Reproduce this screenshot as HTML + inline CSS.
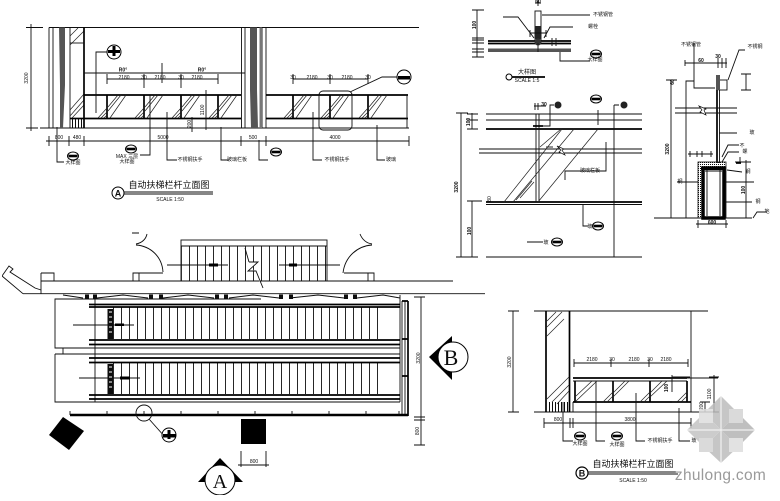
<!DOCTYPE html>
<html lang="zh">
<head>
<meta charset="utf-8">
<title>自动扶梯栏杆大样图</title>
<style>
html,body{margin:0;padding:0;background:#fff}
svg{display:block}
text{font-family:"Liberation Sans","Noto Sans CJK SC",sans-serif;fill:#111;font-size:5px;text-anchor:middle}
.s{fill:none;stroke:#111;stroke-width:.9}
.t{fill:none;stroke:#000;stroke-width:1.7}
.h{fill:none;stroke:#222;stroke-width:.7}
.m{fill:none;stroke:#000;stroke-width:2.6}
</style>
</head>
<body>
<svg xmlns="http://www.w3.org/2000/svg" width="780" height="501" viewBox="0 0 780 501">
<defs>
<filter id="b" x="0" y="0" width="100%" height="100%"><feGaussianBlur stdDeviation=".28"/></filter>
<pattern id="tr" patternUnits="userSpaceOnUse" width="8" height="10" x="1"><rect x="0" y="0" width=".9" height="10" fill="#111"/></pattern>
<pattern id="up" patternUnits="userSpaceOnUse" width="8" height="10" x="189"><rect x="0" y="0" width=".9" height="10" fill="#111"/></pattern>
<pattern id="vh" patternUnits="userSpaceOnUse" width="3" height="10"><rect x="0" y="0" width="1" height="10" fill="#111"/></pattern>
<pattern id="dt" patternUnits="userSpaceOnUse" width="2" height="2"><rect width="1" height="1" fill="#111"/></pattern>
<g id="post">
<path class="t" d="M0 0V23"/>
<path class="h" d="M1 12L11 0M1 16L14 0M3 23L19 0M-9 23L0 13M-6 23L0 17M-3 23L0 20"/>
</g>
<g id="sym">
<ellipse cx="0" cy="0" rx="5.5" ry="4" fill="#fff" stroke="#000" stroke-width="1"/>
<rect x="-4.5" y="-1.3" width="9" height="2.6" fill="#000"/>
</g>
<g id="tk"><path class="s" d="M-2 2L2 -2M0 -4V4"/></g>
</defs>
<g filter="url(#b)">

<!-- Top-left elevation A -->
<path class="s" d="M49 27.5H419M40 128H409M43 27.5H26M31 24V131M26 128H38"/>
<path class="s" d="M49 27.5V128M53 27.5V128M70 27.5V128"/>
<path d="M59 27.5H65V85L63 128H60V85Z" fill="#555"/>
<path class="h" d="M70 45L84 31M70 36L78 28M70 110L84 94M70 116L84 100M72 118L84 105"/>
<path class="t" d="M84 27.5V128"/>
<path class="s" d="M70 43H84"/>
<path class="t" d="M70 118.5H84"/>
<rect x="70" y="119" width="14" height="9" fill="url(#vh)"/>
<path class="s" d="M241.5 27.5V128M245 27.5V128M262 27.5V128M266 27.5V128"/>
<path d="M250 27.5H257V90L258 128H251L250 90Z" fill="#555"/>
<path d="M259.500 27.500H262V128H259.500Z" fill="#777"/>
<path class="t" d="M84 95H241M84 118.500H241M266 95H408M266 118.500H408"/>
<path class="s" d="M407 95V128"/>
<use href="#post" x="107" y="95"/><use href="#post" x="144" y="95"/><use href="#post" x="181" y="95"/><use href="#post" x="218" y="95"/>
<use href="#post" x="293" y="95"/><use href="#post" x="330" y="95"/><use href="#post" x="368" y="95"/>
<path class="s" d="M84 73H245M162 63V83M107 79H218M107 74V84M144 74V88M181 74V88M218 74V84M293 79H368M293 74V84M330 74V84M368 74V84"/>
<text x="123" y="71.500" font-weight="bold">R0°</text><text x="202" y="71.500" font-weight="bold">R0°</text>
<text x="124" y="79">2180</text><text x="144" y="79">30</text><text x="160" y="79">2180</text><text x="181" y="79">30</text><text x="197" y="79">2180</text>
<text x="293" y="79">30</text><text x="312" y="79">2180</text><text x="330" y="79">30</text><text x="347" y="79">2180</text><text x="368" y="79">30</text>
<circle cx="114" cy="52" r="7" fill="#fff" stroke="#000"/><rect x="108" y="50" width="12" height="3" fill="#000"/><rect x="112.500" y="46" width="3" height="10" fill="#000"/>
<path class="s" d="M107 52H96V113"/>
<circle cx="404" cy="77" r="7" fill="#fff" stroke="#000"/><rect x="398" y="76" width="12" height="3.500" fill="#000"/>
<path class="s" d="M397 77H382L350 92"/>
<rect x="319" y="91" width="33" height="39" rx="4" class="s"/>
<path class="s" d="M206 90V130M192 117V132"/>
<text transform="translate(191,124) rotate(-90)">200</text>
<text transform="translate(204,110) rotate(-90)">1100</text>
<text transform="translate(28,78) rotate(-90)">3200</text>
<path class="s" d="M46 141H409M49 136V146M69 136V146M84 136V146M241 136V146M266 136V146M409 136V146"/>
<text x="59" y="139">800</text><text x="77" y="139">480</text><text x="163" y="139">5000</text><text x="253" y="139">500</text><text x="335" y="139">4000</text>
<path class="s" d="M57 127V162H64M150 95V155H140M167 112V160H177M221 127V160H229M259 140V160H268M313 112V160H322M377 125V160H385"/>
<use href="#sym" x="73" y="156"/><use href="#sym" x="131" y="149"/><use href="#sym" x="276" y="152"/>
<text x="73" y="164" font-size="4">大样图</text><text x="127" y="158" font-size="4">MAX 三层</text><text x="127" y="163" font-size="4">大样图</text>
<text x="190" y="161">不锈钢扶手</text><text x="237" y="161">玻璃栏板</text><text x="337" y="161">不锈钢扶手</text><text x="391" y="161">玻璃</text>
<circle cx="118" cy="193" r="6" fill="#fff" stroke="#000"/><text x="118" y="196.500" style="font-size:9px;font-weight:bold">A</text>
<path class="s" d="M124 192H213M124 194H213"/>
<text x="169" y="188" style="font-size:9px">自动扶梯栏杆立面图</text>
<text x="170" y="201">SCALE 1:50</text>

<!-- Plan: upper stairs -->
<path class="s" d="M41 281H453M23 293.700H485M41 273V293.700M41 273H54V281"/>
<path class="s" d="M2 276L9 266L13 269L10 272L35 288L41 290M2 276L23 293.700"/>
<rect x="181" y="240" width="146" height="41" class="s" fill="#fff"/>
<rect x="181.500" y="246" width="145" height="35" fill="url(#up)"/>
<path class="s" d="M181 246H327M167 265H228M279 340H279M279 265H340"/>
<path d="M209 263.500H218V266.500H209ZM289 263.500H297V266.500H289Z" fill="#000"/>
<path fill="#fff" stroke="#111" stroke-width=".9" d="M249 262L258 262L248 271L256 271L263 288"/>
<path class="s" d="M245 248L249 262"/>
<path class="s" d="M133 281V273H163M139 273V281M136 245C150 246 162 256 163 272M136 244C142 243 146 239 147 234M132 233H139"/>
<path class="s" d="M374 281V273H344M368 273V281M372 245C358 246 345 256 343 273M372 244C366 243 362 239 360 234"/>

<!-- Plan: beam row -->
<path class="s" d="M63 295L83 298M97 298L123 295L148 298M163 298L188 295L214 298M229 298L253 295L279 298M290 298L318 295L344 298M357 298L383 295L400 298"/>
<path d="M85 294.500H89V299H85ZM93 294.500H97V299H93ZM149 294.500H153V299H149ZM159 294.500H163V299H159ZM215 294.500H219V299H215ZM224 294.500H228V299H224ZM279 294.500H283V299H279ZM289 294.500H293V299H289ZM344 294.500H348V299H344ZM353 294.500H357V299H353Z" fill="#111"/>

<!-- Plan: escalators -->
<path class="s" d="M261 299H55V348H400M55 354V402H400M55 354H400M63 348V354M95 299V402M400 295V402"/>
<rect x="113" y="307" width="272" height="32" fill="url(#tr)"/>
<rect x="113" y="363" width="272" height="31" fill="url(#tr)"/>
<path d="M107.500 309H113V339H107.500ZM107.500 364H113V394H107.500Z" fill="#111"/>
<path d="M109 312H112M109 317H112M109 322H112M109 327H112M109 332H112M109 367H112M109 372H112M109 377H112M109 382H112M109 387H112" stroke="#fff" stroke-width="1"/>
<path class="t" d="M89 304.500H400M89 307H400M89 340H400M89 344.500H400"/>
<path class="t" d="M89 358H400M89 362.500H400M89 395H400M89 399H400"/>
<path class="s" d="M73 325H134M79 378H140"/>
<path d="M115 323.500H124V326H115ZM120 376.500H130V379.500H120Z" fill="#000"/>
<path class="s" d="M402 301V416M405 301V416"/>
<path class="t" d="M408 301V416M402 301H408M402 339H408M402 376H408"/>
<path class="m" d="M70 415H408"/>
<path class="s" d="M70 411V415M107 411V415M144 411V415M181 411V415M218 411V415M255 411V415M292 411V415M329 411V415M366 411V415M399 411V415"/>
<circle cx="144" cy="413" r="8" class="s"/>
<path class="s" d="M149 419L165 437"/>
<circle cx="169" cy="435" r="7" fill="#fff" stroke="#000"/><rect x="163" y="434" width="13" height="3.500" fill="#000"/><rect x="167.500" y="430" width="3" height="9" fill="#000"/>
<polygon points="63,417 84,431 69,450 49,435" fill="#000"/>
<rect x="241" y="419" width="25" height="25" fill="#000"/>
<path class="s" d="M241 451V467M266 451V467M238 465H269"/>
<text x="254" y="463">800</text>
<path class="s" d="M421 297V445M414 297H425M414 417H425M414 420H425M414 445H425"/>
<text transform="translate(420,358) rotate(-90)">3200</text>
<text transform="translate(419,431) rotate(-90)">800</text>
<polygon points="429,357 452,336 452,380" fill="#000"/>
<circle cx="453" cy="357" r="15" fill="#fff" stroke="#000"/>
<text x="451" y="365" style="font-family:'Liberation Serif',serif;font-size:22px">B</text>
<polygon points="198,482 220,458 243,482" fill="#000"/>
<circle cx="220" cy="480" r="15" fill="#fff" stroke="#000"/>
<text x="220" y="488" style="font-family:'Liberation Serif',serif;font-size:20px">A</text>

<!-- Detail 1 -->
<rect x="535" y="11" width="6" height="29" class="s" fill="#fff"/>
<rect x="535" y="26" width="6" height="13" fill="#222"/>
<path class="s" d="M535 3H541M538 0V6M477 10V57M472 10H484M472 38H484M472 40H484M472 43H484M472 49H484M472 52H484M472 57H484"/>
<text x="538" y="3" style="font-weight:bold">60</text>
<path class="t" d="M488 41H571M488 43.500H571"/>
<rect x="488" y="48.500" width="83" height="3.500" fill="#555"/>
<circle cx="538" cy="42" r="3.500" fill="#333"/>
<path class="s" d="M530 33H546M530 30V37M546 30V37M550 41H558M552 38V46M556 38V46M538 43V52"/>
<path class="s" d="M503 17H518L534 38M542 15H590M573 27H550L544 38M560 52V61H590"/>
<use href="#sym" x="596" y="54"/>
<text x="603" y="16" font-size="4">不锈钢管</text><text x="593" y="28" font-size="4">螺栓</text><text x="595" y="61" font-size="4">大样图</text>
<text transform="translate(476,25) rotate(-90)" style="font-weight:bold">100</text>
<circle cx="509" cy="77" r="3" fill="#fff" stroke="#000"/>
<path class="t" d="M512 77H545"/>
<text x="527" y="74" style="font-size:6px">大样图</text><text x="527" y="82" font-size="4">SCALE 1:5</text>

<!-- Detail 2 -->
<path class="s" d="M486 114H642M486 120H642M479 149H642M479 153H642"/>
<path class="t" d="M486 129H642M486 202H642"/>
<path class="s" d="M486 204.500H642M486 257H642M536 114V202M539 114V202M614 105V257"/>
<path class="h" d="M504 202L562 129M513 202L574 129M538 202L598 129M540 147L561 129M520 198L534 182M516 200L532 181"/>
<path class="s" d="M546 147H553"/>
<path fill="#fff" stroke="#111" stroke-width=".7" d="M557 146L561 150L559 152L565 155L562 150L564 149Z"/>
<path class="s" d="M461 113V257M456 113H468M456 257H468M472 113V129M467 114H478M467 120H478M467 129H478M472 201V257M467 201H482M467 257H478"/>
<text transform="translate(470,122) rotate(-90)" style="font-weight:bold">100</text>
<text transform="translate(458,187) rotate(-90)" style="font-weight:bold">3200</text>
<text transform="translate(471,231) rotate(-90)" style="font-weight:bold">100</text>
<text transform="translate(491,199) rotate(-90)" font-size="4">80</text>
<path class="s" d="M534 106H546M535 103V110M538 103V110"/>
<text x="544" y="106" style="font-weight:bold">30</text>
<path class="s" d="M554 105H550V126H533M619 105H614M598 110V125M606 142V171H565V180M583 205V226H588M527 242H543"/>
<path class="t" d="M533 126H543"/>
<circle cx="558" cy="105" r="3.500" fill="#222"/><circle cx="624" cy="105" r="3.500" fill="#222"/>
<use href="#sym" x="596" y="99"/><use href="#sym" x="598" y="226"/><use href="#sym" x="557" y="242"/>
<text x="590" y="172" font-size="4">玻璃栏板</text><text x="590" y="228" font-size="4">玻</text><text x="546" y="244" font-size="4">玻</text>

<!-- Detail 3 -->
<path class="s" d="M694 43V88H715M686 218V81H694M654 218H752M671 80V218M666 80H677M666 218H677"/>
<path class="t" d="M717 75V163"/>
<path class="s" d="M719.500 75V163"/>
<rect x="719" y="80" width="8" height="10" class="s" fill="#fff"/>
<rect x="716" y="75" width="4" height="15" fill="#555"/>
<path class="s" d="M675 108H737M675 113H737"/>
<path fill="#fff" stroke="#111" stroke-width=".7" d="M699 106L702 110L700 112L706 115L704 110L706 109Z"/>
<text transform="translate(674,82) rotate(-90)" style="font-weight:bold">60</text>
<text transform="translate(669,149) rotate(-90)" style="font-weight:bold">3200</text>
<path class="s" d="M685 63H727M685 60V66M718 58V68M722 58V68M726 58V68"/>
<text x="701" y="62" style="font-weight:bold">60</text><text x="718" y="58" style="font-weight:bold">30</text>
<path class="s" d="M728 80L739 50H745M719 133H737M722 157L728 145H739M722 162L728 152H739M727 170L742 172"/>
<text x="755" y="48" font-size="4">不锈钢</text><text x="691" y="46" font-size="4">不锈钢管</text><text x="752" y="134" font-size="4">玻</text><text x="742" y="147" font-size="4">不</text><text x="745" y="153" font-size="4">螺</text><text x="748" y="173" font-size="4">钢</text>
<path class="s" d="M688 154H713M690 151V157M697 151V157M702 151V157M711 151V157M746 74V90M741 74H751M741 90H751M746 160V218M740 157V163M735 162H751M740 218H751"/>
<path class="t" d="M736 163H741"/>
<text transform="translate(745,190) rotate(-90)" style="font-weight:bold">100</text>
<rect x="698" y="162" width="28" height="56" fill="url(#dt)" stroke="#111" stroke-width=".8"/>
<rect x="703" y="168" width="21" height="50" fill="#fff" stroke="#000" stroke-width="3.500"/>
<rect x="701" y="167" width="23" height="3" fill="#000"/>
<path class="s" d="M707 170V216M720 170V216M705 171H722"/>
<path class="s" d="M677 182H698M726 182H754M726 202H752M753 218L757 212H767M696 224H728M698 220V228M726 220V228"/>
<text x="712" y="224" style="font-weight:bold">600</text>
<text x="767" y="213" font-size="4">地</text><text x="680" y="183" font-size="4">钢</text><text x="758" y="203" font-size="4">钢</text>

<!-- Bottom-right elevation B -->
<path class="s" d="M534 311H708M534 412H691M513 311V412M508 311H519M508 412H519M691 311V412"/>
<text transform="translate(511,362) rotate(-90)">3200</text>
<path class="t" d="M546 311V412M569.500 311V412"/>
<path class="h" d="M547 321L556 312M547 327L562 312M547 336L564 319M547 399L569 377M552 402L569 385M557 404L569 391"/>
<rect x="547" y="402" width="22" height="10" fill="url(#vh)"/>
<path class="t" d="M573 378H687M573 402H691"/>
<path class="s" d="M573 381H687M573 402V412"/>
<path class="t" d="M575 381V402M613 381V402M650 381V402M687 381V402"/>
<path class="s" d="M596 381V441H605"/>
<path class="h" d="M576 396L592 381M576 401L597 381M613 393L625 381M613 397L629 381M650 393L662 381M650 397L667 381M603 402L613 392M607 402L613 396M640 402L650 392M644 402L650 396M677 402L687 392M681 402L687 396"/>
<path class="s" d="M574 363H688M574 359V367M611 359V367M649 359V367M688 359V367"/>
<text x="592" y="361">2180</text><text x="612" y="361">30</text><text x="634" y="361">2180</text><text x="650" y="361">30</text><text x="666" y="361">2180</text>
<path class="s" d="M544 423H691M544 418V428M570 418V428M573 418V428M691 418V428"/>
<text x="558" y="421">800</text><text x="630" y="421">3800</text>
<path class="s" d="M714 375V412M709 377H719M709 412H719M705 402V412M700 402H710M672 412H710M672 402H690M672 377H690M672 378H718"/>
<text transform="translate(711,394) rotate(-90)">1100</text>
<text transform="translate(703,406) rotate(-90)">200</text>
<text transform="translate(668,388) rotate(-90)" style="font-weight:bold">100</text>
<path class="s" d="M672 375V392"/>
<path class="s" d="M563 402V441H573M636 393V441H645M679 408V441H690"/>
<use href="#sym" x="580" y="436"/><use href="#sym" x="617" y="436"/>
<text x="580" y="445" font-size="4">大样图</text><text x="617" y="446" font-size="4">大样图</text><text x="660" y="442" font-size="4">不锈钢扶手</text><text x="694" y="442" font-size="4">玻</text>
<circle cx="582" cy="473" r="6" fill="#fff" stroke="#000" stroke-width="1.200"/>
<text x="582" y="476.500" style="font-size:9px;font-weight:bold">B</text>
<path class="s" d="M588 472H678M588 474H678"/>
<text x="633" y="467" style="font-size:9px">自动扶梯栏杆立面图</text>
<text x="633" y="482">SCALE 1:50</text>

</g>

<!-- Watermark -->
<g opacity=".85">
<polygon points="721,396 738,413 721,430 704,413" fill="#bdbdbd"/>
<polygon points="721,463 738,447 721,430 704,447" fill="#bdbdbd"/>
<polygon points="687,430 704,413 721,430 704,447" fill="#c4c4c4"/>
<polygon points="755,430 738,413 721,430 738,447" fill="#b4b4b4"/>
<rect x="699" y="409" width="14" height="14" fill="#ddd"/>
<rect x="729" y="409" width="14" height="14" fill="#d4d4d4"/>
<rect x="699" y="438" width="14" height="14" fill="#d4d4d4"/>
<rect x="729" y="438" width="14" height="14" fill="#ddd"/>
<path d="M721 430L721 396M721 430V463M687 430H755" stroke="#eee" stroke-width="1.200"/>
</g>
<text x="720.500" y="480" style="font-size:15.500px;fill:#9a9a9a;letter-spacing:.3px">zhulong.com</text>
</svg>
</body>
</html>
